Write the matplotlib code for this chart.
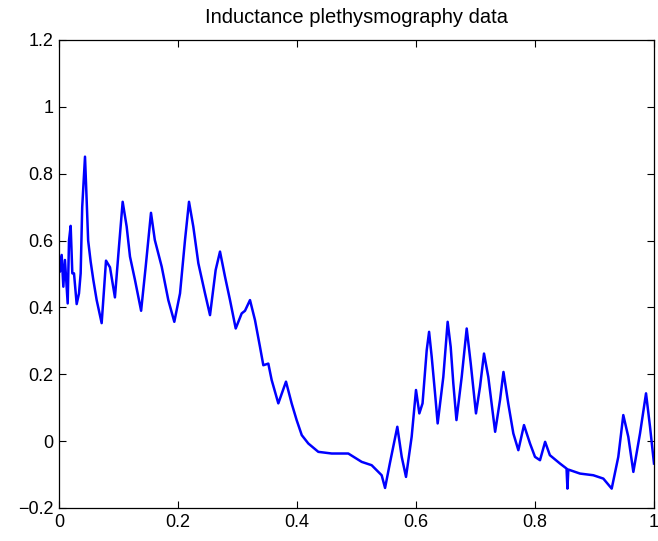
import numpy as np
import matplotlib
matplotlib.use("Agg")
import matplotlib.pyplot as plt

# Werte (Zeit normiert, Signal)
t = [0.0, 0.0017, 0.0045, 0.0073, 0.010, 0.0146, 0.0168, 0.0196, 0.0224, 0.0252,
     0.0297, 0.0336, 0.0364, 0.039, 0.0437, 0.0465, 0.049, 0.0532, 0.0577, 0.0633,
     0.0717, 0.0756, 0.079, 0.0857, 0.094, 0.1008, 0.107, 0.1137, 0.1193, 0.1277,
     0.138, 0.1457, 0.1546, 0.161, 0.1726, 0.1837, 0.1938, 0.2034, 0.2118, 0.2185,
     0.2257, 0.2342, 0.2454, 0.2538, 0.2633, 0.2706, 0.279, 0.2874, 0.297, 0.307,
     0.3126, 0.321, 0.3294, 0.3378, 0.3434, 0.3518, 0.3574, 0.3686, 0.3815, 0.391,
     0.3994, 0.408, 0.419, 0.4358, 0.4583, 0.4862, 0.5087, 0.5255, 0.5423, 0.548,
     0.556, 0.5686, 0.576, 0.5832, 0.5927, 0.60, 0.6056, 0.611, 0.618, 0.622,
     0.6264, 0.632, 0.6364, 0.6459, 0.6532, 0.6583, 0.6627, 0.668, 0.6768, 0.6852,
     0.692, 0.7008, 0.7076, 0.7143, 0.7215, 0.733, 0.7412, 0.747, 0.755, 0.7636,
     0.772, 0.7815, 0.7916, 0.80, 0.8084, 0.817, 0.825, 0.842, 0.853, 0.8545,
     0.856, 0.8756, 0.898, 0.9148, 0.9289, 0.94, 0.9484, 0.9568, 0.9653, 0.9765,
     0.9866, 0.9933, 1.0]
signal = [0.552, 0.507, 0.557, 0.462, 0.542, 0.412, 0.60, 0.644, 0.502, 0.502,
          0.41, 0.442, 0.502, 0.70, 0.851, 0.72, 0.60, 0.537, 0.482, 0.422,
          0.353, 0.452, 0.54, 0.52, 0.43, 0.582, 0.716, 0.642, 0.552, 0.482,
          0.39, 0.522, 0.683, 0.602, 0.522, 0.422, 0.357, 0.442, 0.602, 0.716,
          0.642, 0.532, 0.442, 0.377, 0.512, 0.567, 0.492, 0.422, 0.337, 0.382,
          0.39, 0.422, 0.362, 0.282, 0.227, 0.232, 0.183, 0.113, 0.178, 0.113,
          0.063, 0.018, -0.007, -0.032, -0.037, -0.037, -0.062, -0.072, -0.102, -0.14,
          -0.067, 0.043, -0.047, -0.107, 0.013, 0.153, 0.083, 0.113, 0.272, 0.327,
          0.252, 0.143, 0.053, 0.192, 0.357, 0.282, 0.173, 0.063, 0.192, 0.337,
          0.232, 0.083, 0.163, 0.262, 0.192, 0.028, 0.123, 0.207, 0.113, 0.023,
          -0.027, 0.048, -0.007, -0.047, -0.057, -0.002, -0.042, -0.067, -0.082, -0.142,
          -0.085, -0.097, -0.102, -0.112, -0.142, -0.047, 0.078, 0.013, -0.092, 0.023,
          0.143, 0.043, -0.067]

x_ticks = [0, 0.2, 0.4, 0.6, 0.8, 1]
x_ticklabels = ["0", "0.2", "0.4", "0.6", "0.8", "1"]
y_ticks = [-0.2, 0, 0.2, 0.4, 0.6, 0.8, 1, 1.2]
y_ticklabels = ["\u22120.2", "0", "0.2", "0.4", "0.6", "0.8", "1", "1.2"]

plt.rcParams["font.family"] = ["Liberation Sans", "DejaVu Sans"]

fig = plt.figure(figsize=(6.58, 5.41), dpi=100)
ax = fig.add_axes([59 / 658, 1 - 508 / 541, 595 / 658, 468 / 541])

ax.plot(t, signal, color="#0000ff", linewidth=1.8)

ax.set_xlim(0, 1)
ax.set_ylim(-0.2, 1.2)
ax.set_xticks(x_ticks)
ax.set_xticklabels(x_ticklabels)
ax.set_yticks(y_ticks)
ax.set_yticklabels(y_ticklabels)
ax.tick_params(direction="in", top=True, right=True, length=5, labelsize=13, pad=4)
for s in ax.spines.values():
    s.set_linewidth(0.9)

ax.set_title("Inductance plethysmography data", fontsize=14.5, pad=12)

fig.savefig("out.png", dpi=100)
